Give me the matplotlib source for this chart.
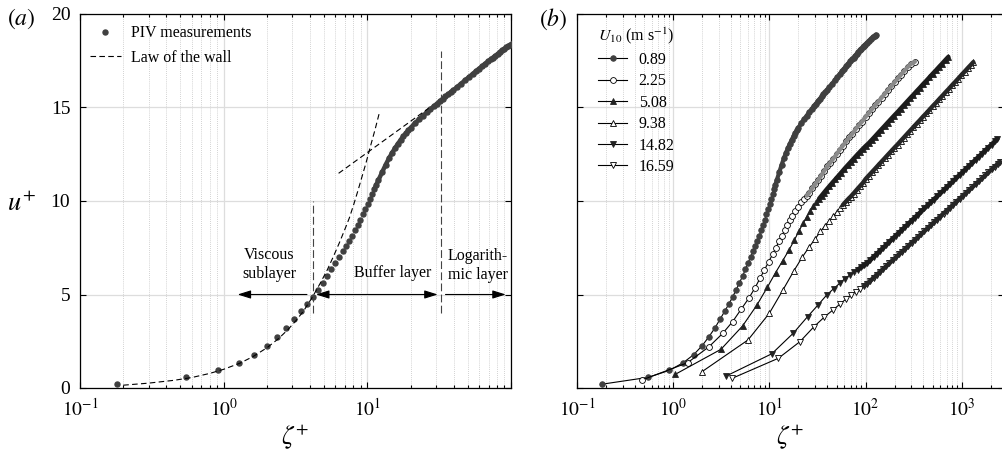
import numpy as np
import matplotlib
matplotlib.use('Agg')
from matplotlib import pyplot as plt
from matplotlib.ticker import FixedLocator, LogLocator, NullFormatter

plt.rcParams['font.family'] = 'serif'
plt.rcParams['font.serif'] = ['Liberation Serif', 'DejaVu Serif']
plt.rcParams['mathtext.fontset'] = 'stix'

# ---- data ----
# U10 = 0.89 m/s (also the PIV profile of panel a)
z089 = [0.18, 0.55, 0.91, 1.27, 1.63, 2.0, 2.35, 2.71, 3.07, 3.43, 3.80, 4.16, 4.52, 4.89, 5.26,
        5.63, 6.0, 6.37, 6.74, 7.11, 7.48, 7.85, 8.22, 8.59, 8.96, 9.33, 9.70, 10.07, 10.44, 10.81,
        11.18, 11.55, 11.92, 12.66, 13.4, 14.14, 14.88, 15.62, 16.36, 17.1, 17.84, 18.58, 19.32, 20.06,
        21.5, 23.0, 24.5, 26.0, 27.5, 29.0, 30.5, 32.0, 33.5, 35.0, 36.5, 38.0, 39.5, 42, 45, 48, 51,
        54, 57, 60, 63, 66, 69, 72, 75, 78, 81, 84, 87, 90, 93, 96, 99, 104, 109, 114, 119, 124, 128]
u089 = [0.2, 0.57, 0.94, 1.35, 1.78, 2.26, 2.74, 3.2, 3.68, 4.1, 4.5, 4.88, 5.26, 5.62, 5.98,
        6.34, 6.68, 7.0, 7.3, 7.58, 7.86, 8.14, 8.43, 8.72, 9.0, 9.28, 9.57, 9.85, 10.12, 10.38,
        10.63, 10.87, 11.1, 11.53, 11.93, 12.28, 12.58, 12.84, 13.07, 13.28, 13.47, 13.63, 13.78, 13.92,
        14.17, 14.38, 14.57, 14.75, 14.91, 15.06, 15.2, 15.34, 15.47, 15.59, 15.7, 15.81, 15.91, 16.08,
        16.28, 16.46, 16.63, 16.79, 16.94, 17.08, 17.21, 17.34, 17.46, 17.57, 17.67, 17.77, 17.87,
        17.96, 18.05, 18.13, 18.21, 18.29, 18.36, 18.47, 18.57, 18.67, 18.76, 18.84, 18.9]

z225 = [0.474, 1.41, 2.36, 3.27, 4.15, 5.10, 6.09, 7.08, 7.98, 8.85, 9.84, 10.8, 11.7, 12.6, 13.5,
        14.5, 15.4, 16.3, 17.3, 18.5, 20.0, 21.5, 23.0, 24.5, 26.0, 28.0, 30.0, 32.0, 34.5, 37.0,
        40.0, 43.0, 46.0, 50.0, 54.0, 58.0, 63.0, 68.0, 73.0, 79.0, 85.0, 92.0, 100, 108, 117, 126,
        136, 147, 159, 172, 186, 201, 217, 234, 253, 273, 295, 326]
u225 = [0.43, 1.35, 2.21, 2.92, 3.55, 4.22, 4.79, 5.35, 5.86, 6.3, 6.75, 7.15, 7.5, 7.85, 8.15,
        8.45, 8.72, 8.97, 9.2, 9.45, 9.7, 9.92, 10.1, 10.28, 10.45, 10.7, 10.9, 11.1, 11.35, 11.6,
        11.85, 12.05, 12.25, 12.5, 12.75, 12.95, 13.2, 13.4, 13.6, 13.85, 14.05, 14.25, 14.5, 14.7,
        14.92, 15.12, 15.32, 15.53, 15.74, 15.95, 16.15, 16.36, 16.56, 16.76, 16.96, 17.15, 17.32, 17.45]

z508 = [1.05, 3.14, 5.27, 7.43, 9.51, 11.6, 13.7, 16.0, 18.2, 20.3, 22.4, 24.5, 26.6, 28.7, 30.8,
        32.9, 35.0, 37.1, 39.2, 42, 45, 48.5, 52, 56, 60, 65, 70, 75, 81, 87, 94, 100, 108, 116, 125,
        135, 146, 158, 170, 184, 199, 215, 232, 250, 270, 292, 315, 340, 367, 396, 428, 462, 499, 539,
        582, 628, 678, 725]
u508 = [0.73, 2.07, 3.32, 4.44, 5.38, 6.17, 6.79, 7.38, 7.91, 8.4, 8.8, 9.16, 9.47, 9.72, 9.93,
        10.12, 10.29, 10.45, 10.6, 10.78, 10.96, 11.15, 11.33, 11.52, 11.7, 11.9, 12.08, 12.25, 12.44,
        12.61, 12.79, 12.93, 13.09, 13.26, 13.44, 13.63, 13.82, 14.01, 14.19, 14.38, 14.57, 14.75,
        14.94, 15.12, 15.31, 15.5, 15.68, 15.87, 16.05, 16.24, 16.42, 16.61, 16.8, 16.98, 17.17,
        17.35, 17.54, 17.7]

z938 = [1.99, 6.0, 10.0, 13.9, 18.0, 22.0, 26.0, 30.0, 34.0, 38.0, 42.0, 46.0, 50.0, 54.0, 58.0,
        62.0, 66.0, 70.0, 75, 81, 87, 94, 100, 108, 116, 125, 135, 146, 158, 170, 184, 199, 215, 232,
        250, 270, 292, 315, 340, 367, 396, 428, 462, 499, 539, 582, 628, 678, 732, 790, 853, 921, 994,
        1073, 1158, 1250, 1318]
u938 = [0.87, 2.57, 4.0, 5.26, 6.27, 7.0, 7.55, 7.98, 8.37, 8.68, 8.95, 9.18, 9.4, 9.6, 9.78,
        9.95, 10.1, 10.23, 10.4, 10.6, 10.78, 10.97, 11.17, 11.36, 11.53, 11.71, 11.9, 12.09, 12.28,
        12.46, 12.65, 12.84, 13.02, 13.21, 13.39, 13.58, 13.77, 13.95, 14.14, 14.32, 14.51, 14.69,
        14.88, 15.07, 15.25, 15.44, 15.62, 15.81, 15.99, 16.18, 16.36, 16.55, 16.74, 16.92, 17.11,
        17.29, 17.42]

z1482 = [3.55, 10.6, 17.8, 25.0, 32.2, 39.4, 46.6, 53.8, 61.0, 68.2, 75.4, 82.6, 89.8, 97.0, 104,
         112, 121, 131, 141, 152, 164, 177, 191, 206, 222, 240, 259, 279, 301, 325, 351, 379, 409,
         441, 476, 514, 555, 599, 647, 698, 754, 814, 879, 949, 1025, 1107, 1195, 1290, 1393, 1504,
         1624, 1754, 1894, 2045, 2208, 2350]
u1482 = [0.64, 1.83, 2.94, 3.82, 4.45, 4.97, 5.31, 5.6, 5.85, 6.03, 6.18, 6.32, 6.45, 6.56, 6.68,
         6.84, 7.01, 7.17, 7.33, 7.49, 7.65, 7.82, 7.98, 8.14, 8.3, 8.46, 8.63, 8.78, 8.95, 9.11,
         9.27, 9.44, 9.6, 9.76, 9.92, 10.08, 10.25, 10.41, 10.57, 10.74, 10.9, 11.06, 11.23, 11.39,
         11.55, 11.72, 11.88, 12.04, 12.21, 12.37, 12.53, 12.7, 12.86, 13.02, 13.19, 13.32]

z1659 = [4.11, 12.4, 20.8, 29.1, 37.4, 45.7, 54.0, 62.3, 70.6, 78.9, 87.2, 95.5, 104, 112, 121,
         131, 141, 152, 164, 177, 191, 206, 222, 240, 259, 279, 301, 325, 351, 379, 409, 441, 476,
         514, 555, 599, 647, 698, 754, 814, 879, 949, 1025, 1107, 1195, 1290, 1393, 1504, 1624, 1754,
         1894, 2045, 2208, 2384, 2500]
u1659 = [0.52, 1.59, 2.48, 3.28, 3.8, 4.17, 4.48, 4.75, 4.97, 5.15, 5.3, 5.45, 5.58, 5.73, 5.89,
         6.05, 6.2, 6.36, 6.51, 6.67, 6.83, 6.98, 7.14, 7.29, 7.45, 7.6, 7.76, 7.92, 8.07, 8.23,
         8.39, 8.54, 8.7, 8.86, 9.01, 9.17, 9.33, 9.48, 9.64, 9.8, 9.96, 10.11, 10.27, 10.43, 10.59,
         10.74, 10.9, 11.06, 11.21, 11.37, 11.53, 11.69, 11.84, 12.0, 12.1]

# law of the wall (dashed) in panel a
visc_z = [0.2, 0.3, 0.45, 0.6, 0.8, 1.0, 1.3, 1.6, 2.0, 2.4, 2.8, 3.2, 3.6, 4.16, 4.7, 5.25,
          5.82, 6.4, 7.03, 7.5, 8.03, 8.6, 9.18, 9.8, 10.49, 11.3, 12.1]
visc_u = [0.15, 0.26, 0.41, 0.56, 0.78, 1.0, 1.33, 1.68, 2.15, 2.63, 3.12, 3.62, 4.12, 4.88, 5.6,
          6.3, 7.05, 7.78, 8.55, 9.1, 9.8, 10.55, 11.3, 12.05, 12.9, 13.8, 14.69]
log_z = [6.31, 26.7]
log_u = [11.48, 14.96]

# layer limits and annotations
layer_lims = [4.16, 32.4]
lim_spans = [(4.0, 10.0), (4.0, 18.0)]
arrow_u = 5.0

labels = ['0.89', '2.25', '5.08', '9.38', '14.82', '16.59']
series = [(z089, u089), (z225, u225), (z508, u508), (z938, u938), (z1482, u1482), (z1659, u1659)]
markers = ['o', 'o', '^', '^', 'v', 'v']
faces = ['#404040', 'white', '#222222', 'white', '#222222', 'white']
edges = ['#404040', 'k', '#222222', 'k', '#222222', 'k']
sizes = [4.0, 4.2, 4.6, 4.6, 4.6, 4.6]
# where the markers crowd into a solid band, and the band tone
band_from = [11, 24, 32, 56, 80, 95]
band_col = ['#404040', '#8a8a8a', '#1c1c1c', '#262626', '#1c1c1c', '#262626']
band_lw = [3.0, 3.0, 3.3, 3.2, 3.3, 3.2]

W, H = 1002, 453
fig = plt.figure(figsize=(W / 100, H / 100), dpi=100)
ax1 = fig.add_axes([80 / W, 65 / H, 431 / W, 374 / H])
ax2 = fig.add_axes([577 / W, 65 / H, 427 / W, 374 / H])


def style_axes(ax, xmax, xticks, xlabels):
    ax.set_xscale('log')
    ax.set_xlim(0.1, xmax)
    ax.set_ylim(0, 20)
    ax.set_yticks([0, 5, 10, 15, 20])
    ax.xaxis.set_major_locator(FixedLocator(xticks))
    ax.xaxis.set_minor_locator(LogLocator(base=10, subs=np.arange(2, 10), numticks=30))
    ax.xaxis.set_minor_formatter(NullFormatter())
    ax.set_xticklabels(xlabels)
    ax.grid(which='major', color='#dddddd', lw=0.9, ls='-')
    ax.grid(which='minor', axis='x', color='#c4c4c4', lw=0.6, ls=(0, (1, 1.5)))
    ax.set_axisbelow(True)
    ax.tick_params(which='both', direction='in', top=True, right=True, labelsize=14,
                   pad=7, width=0.8)
    ax.tick_params(which='major', length=4)
    ax.tick_params(which='minor', length=2.2)
    for s in ax.spines.values():
        s.set_linewidth(0.9)


# ---- panel (a) ----
style_axes(ax1, 100, [0.1, 1, 10, 100], [r'$10^{-1}$', r'$10^{0}$', r'$10^{1}$', ''])
ax1.plot(z089, u089, 'o', ms=3.6, color='#404040', mec='#404040', label='PIV measurements', zorder=3)
za, ua = np.array(z089), np.array(u089)
sel = za >= band_from[0]
ax1.plot(za[sel], ua[sel], color='#404040', lw=3.2, solid_capstyle='round', zorder=3)
ax1.plot(visc_z, visc_u, color='k', lw=0.8, ls=(0, (5, 3)), label='Law of the wall', zorder=4)
ax1.plot(log_z, log_u, color='k', lw=0.8, ls=(0, (5, 3)), zorder=4)
for zl, (ua0, ub0) in zip(layer_lims, lim_spans):
    ax1.plot([zl, zl], [ua0, ub0], color='#444444', lw=0.8, ls=(0, (7, 3)), zorder=2)

arr = dict(color='k', lw=0.8, shrinkA=0, shrinkB=0, mutation_scale=10)
ax1.annotate('', xy=(1.25, arrow_u), xytext=(3.8, arrow_u),
             arrowprops=dict(arrowstyle='-|>,head_length=0.8,head_width=0.25', **arr))
ax1.annotate('', xy=(30.9, arrow_u), xytext=(4.39, arrow_u),
             arrowprops=dict(arrowstyle='<|-|>,head_length=0.8,head_width=0.25', **arr))
ax1.annotate('', xy=(92, arrow_u), xytext=(35, arrow_u),
             arrowprops=dict(arrowstyle='-|>,head_length=0.8,head_width=0.25', **arr))

ax1.text(2.07, 6.6, 'Viscous\nsublayer', fontsize=11.5, ha='center', va='center',
         multialignment='center', linespacing=1.2)
ax1.text(15.0, 6.15, 'Buffer layer', fontsize=11.5, ha='center', va='center')
ax1.text(36.3, 6.55, 'Logarith-\nmic layer', fontsize=11.5, ha='left', va='center',
         multialignment='left', linespacing=1.2)

ax1.legend(loc='upper left', bbox_to_anchor=(0.023, 0.97), frameon=False, fontsize=11.5,
           handlelength=1.95, handletextpad=0.6, labelspacing=0.55, borderaxespad=0,
           borderpad=0, numpoints=1)

# ---- panel (b) ----
style_axes(ax2, 2750, [0.1, 1, 10, 100, 1000],
           [r'$10^{-1}$', r'$10^{0}$', r'$10^{1}$', r'$10^{2}$', r'$10^{3}$'])
ax2.tick_params(labelleft=False)
for i, ((zz, uu), lab) in enumerate(zip(series, labels)):
    ax2.plot(zz, uu, color='k', lw=0.8, marker=markers[i], ms=sizes[i], mfc=faces[i],
             mec=edges[i], mew=0.6, label=lab, zorder=2)
    za, ua = np.array(zz), np.array(uu)
    sel = za >= band_from[i]
    ax2.plot(za[sel], ua[sel], color=band_col[i], lw=band_lw[i], solid_capstyle='round', zorder=2.5)

ax2.legend(loc='upper left', bbox_to_anchor=(0.049, 0.968), frameon=False, fontsize=11.5,
           title=r'$U_{10}$ (m s$^{-1}$)', title_fontsize=11.5, alignment='left',
           handlelength=1.85, handletextpad=0.7, labelspacing=0.34, borderaxespad=0,
           borderpad=0, numpoints=1)

# ---- labels ----
fig.text(21 / W, 1 - 19 / H, r'$(a)$', fontsize=17, ha='center', va='center')
fig.text(553 / W, 1 - 19 / H, r'$(b)$', fontsize=17, ha='center', va='center')
fig.text(21 / W, 1 - 204 / H, r'$u^{+}$', fontsize=19, ha='center', va='center')
fig.text(295 / W, 1 - 437 / H, r'$\zeta^{+}$', fontsize=18.5, ha='center', va='center')
fig.text(790 / W, 1 - 437 / H, r'$\zeta^{+}$', fontsize=18.5, ha='center', va='center')

fig.savefig('out.png', dpi=100)
